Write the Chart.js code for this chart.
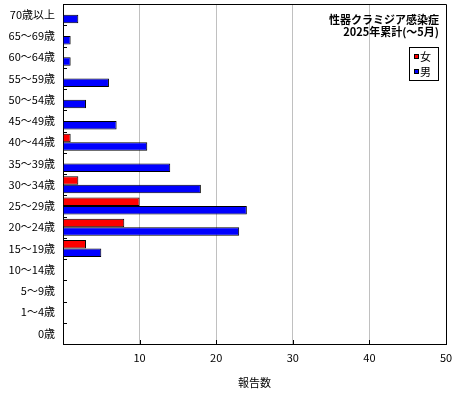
<!DOCTYPE html>
<html>
<head>
<meta charset="utf-8">
<script src="https://cdn.jsdelivr.net/npm/chart.js@4.4.1/dist/chart.umd.min.js"></script>
<style>
    html, body { margin: 0; padding: 0; background: #fff; }
    #wrap { width: 460px; height: 400px; }
</style>
</head>
<body>
<div id="wrap"><canvas id="chart" width="460" height="400"></canvas></div>
<script>
// age groups, top to bottom
const ageGroups = ['70歳以上', '65〜69歳', '60〜64歳', '55〜59歳', '50〜54歳', '45〜49歳', '40〜44歳', '35〜39歳',
    '30〜34歳', '25〜29歳', '20〜24歳', '15〜19歳', '10〜14歳', '5〜9歳', '1〜4歳', '0歳'];
const female = [0, 0, 0, 0, 0, 0, 1, 0, 2, 10, 8, 3, 0, 0, 0, 0];
const male = [2, 1, 1, 6, 3, 7, 11, 14, 18, 24, 23, 5, 0, 0, 0, 0];
const xTicks = [0, 10, 20, 30, 40, 50];
const titleLines = ['性器クラミジア感染症', '2025年累計(〜5月)'];
const axisTitle = '報告数';

const FONT = '"Noto Sans CJK JP", "Noto Sans", sans-serif';

// frame, inner tick marks, title and legend box
const decorPlugin = {
    id: 'decor',
    afterDatasetsDraw(chart) {
        const {ctx, chartArea: a} = chart;
        const xScale = chart.scales.x;
        ctx.save();
        ctx.strokeStyle = '#000';
        ctx.lineWidth = 1;

        // top + right edge of the plot
        ctx.beginPath();
        ctx.moveTo(a.left, a.top + 0.5);
        ctx.lineTo(a.right + 0.5, a.top + 0.5);
        ctx.lineTo(a.right + 0.5, a.bottom);
        ctx.stroke();

        // small ticks between categories and at the grid lines
        const slot = (a.bottom - a.top) / ageGroups.length;
        ctx.beginPath();
        for (let i = 1; i < ageGroups.length; i++) {
            const y = Math.round(a.top + i * slot) + 0.5;
            ctx.moveTo(a.left, y);
            ctx.lineTo(a.left + 4, y);
        }
        xTicks.slice(1, -1).forEach(v => {
            const x = Math.round(xScale.getPixelForValue(v)) + 0.5;
            ctx.moveTo(x, a.bottom);
            ctx.lineTo(x, a.bottom - 4);
        });
        ctx.stroke();

        // chart title, right aligned in the plot
        ctx.fillStyle = '#000';
        ctx.font = 'bold 11px ' + FONT;
        ctx.textAlign = 'right';
        ctx.textBaseline = 'middle';
        titleLines.forEach((t, i) => ctx.fillText(t, a.right - 7, 20 + i * 12));

        // legend
        const lx = 409, ly = 47, lw = 29, lh = 33;
        ctx.fillStyle = '#fff';
        ctx.fillRect(lx, ly, lw, lh);
        ctx.strokeRect(lx + 0.5, ly + 0.5, lw, lh);
        ctx.font = '11px ' + FONT;
        ctx.textAlign = 'left';
        chart.data.datasets.forEach((ds, i) => {
            const cy = ly + 10 + i * 15;
            ctx.fillStyle = ds.backgroundColor;
            ctx.fillRect(lx + 5, cy - 3, 5, 5);
            ctx.strokeStyle = '#000';
            ctx.strokeRect(lx + 5.5, cy - 2.5, 4, 4);
            ctx.fillStyle = '#000';
            ctx.fillText(ds.label, lx + 11, cy);
        });
        ctx.restore();
    }
};

const ctx = document.getElementById('chart').getContext('2d');
new Chart(ctx, {
    type: 'bar',
    data: {
        labels: ageGroups,
        datasets: [
            {label: '女', data: female, backgroundColor: '#ff0000', borderColor: '#000', borderWidth: 1},
            {label: '男', data: male, backgroundColor: '#0000ff', borderColor: '#000', borderWidth: 1}
        ]
    },
    options: {
        indexAxis: 'y',
        responsive: false,
        animation: false,
        categoryPercentage: 0.8,
        barPercentage: 1.0,
        layout: {padding: {top: 4, right: 14, left: 0, bottom: 0}},
        plugins: {
            legend: {display: false},
            tooltip: {enabled: false}
        },
        scales: {
            x: {
                min: 0,
                max: 50,
                afterBuildTicks: (scale) => {
                    scale.ticks = xTicks.map(v => ({value: v}));
                },
                afterFit: (scale) => {
                    scale.height = 56;
                    scale.paddingLeft = 0;
                    scale.paddingRight = 0;
                },
                ticks: {
                    color: '#000',
                    font: {family: FONT, size: 11},
                    padding: 7,
                    callback: (v) => v === 0 ? '' : v
                },
                grid: {
                    color: (c) => (c.tick && (c.tick.value === 0 || c.tick.value === 50)) ? 'rgba(0,0,0,0)' : '#c0c0c0',
                    drawTicks: false
                },
                border: {display: true, color: '#000', width: 1},
                title: {
                    display: true,
                    text: axisTitle,
                    color: '#000',
                    font: {family: FONT, size: 11},
                    padding: {top: 0, bottom: 11}
                }
            },
            y: {
                afterFit: (scale) => {
                    scale.width = 63;
                    scale.paddingTop = 0;
                    scale.paddingBottom = 0;
                },
                ticks: {
                    color: '#000',
                    font: {family: FONT, size: 11},
                    padding: 8
                },
                grid: {display: false, drawTicks: false},
                border: {display: true, color: '#000', width: 1}
            }
        }
    },
    plugins: [decorPlugin]
});
</script>
</body>
</html>
